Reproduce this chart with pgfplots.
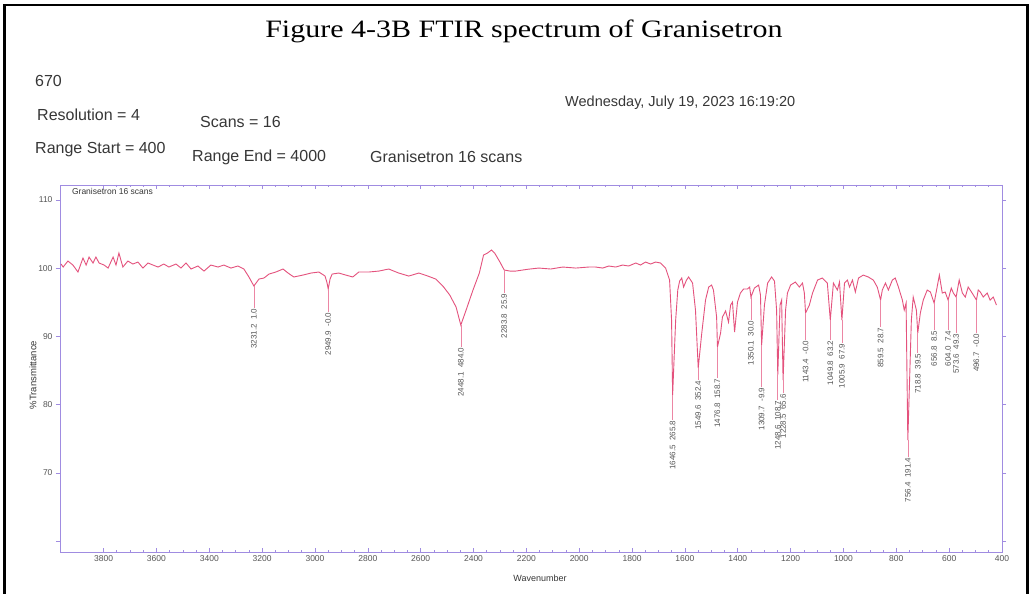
\documentclass[border=0pt]{standalone}
\usepackage{pgfplots}
\pgfplotsset{compat=1.18}
\usepackage{pgfplotstable}
\usepackage{fontspec}
\setmainfont{Liberation Serif}
\newfontfamily\arial{Liberation Sans}
\definecolor{spec}{RGB}{228,82,125}
\definecolor{axcol}{RGB}{160,140,225}
\definecolor{txt}{RGB}{55,55,55}
\definecolor{lbl}{RGB}{85,85,85}

\pgfplotstableread{
wn T
3961 100.62
3953 100.18
3935 101.06
3916 100.47
3897 99.45
3878 101.50
3866 100.47
3855 101.64
3840 100.77
3829 101.64
3817 100.77
3798 100.47
3783 100.03
3764 101.64
3753 100.47
3742 102.23
3727 100.18
3708 101.06
3689 100.62
3670 100.91
3651 100.03
3632 100.77
3613 100.47
3594 100.18
3572 100.62
3553 100.18
3526 100.62
3507 100.03
3488 100.77
3469 99.89
3443 100.33
3420 99.59
3394 100.47
3367 100.18
3345 100.47
3318 100.03
3292 100.33
3269 99.89
3250 98.72
3231.2 97.40
3212 98.42
3193 98.57
3174 99.15
3148 99.45
3121 99.89
3102 99.30
3080 98.72
3046 99.00
3015 99.30
2985 99.45
2962 98.86
2955 97.98
2949.9 96.96
2943 98.42
2935 99.15
2910 99.30
2883 99.00
2857 98.72
2834 99.45
2796 99.45
2758 99.59
2721 99.89
2683 99.30
2645 98.86
2607 99.30
2573 98.86
2543 98.42
2513 97.25
2490 96.08
2466 94.32
2448.1 91.68
2428 93.88
2402 96.81
2378 99.30
2362 101.94
2347 102.23
2332 102.67
2320 102.23
2300 100.91
2283.8 99.74
2262 99.59
2240 99.59
2195 99.85
2153 100.03
2108 99.89
2062 100.18
2013 100.03
1964 100.18
1938 100.18
1911 100.03
1888 100.33
1862 100.18
1836 100.47
1813 100.33
1786 100.77
1768 100.47
1749 100.91
1730 100.62
1711 100.91
1692 100.77
1673 100.03
1658 98.27
1650.5 92.41
1646.5 81.43
1635 92.41
1627 96.81
1620 98.13
1612 98.57
1605 97.25
1594 98.27
1586 98.72
1571 97.83
1560 93.88
1549.6 85.38
1537 90.22
1522 95.34
1510 97.25
1499 97.54
1492 96.81
1480 92.85
1476.8 88.46
1465 90.51
1458 92.85
1446 93.74
1435 92.12
1427 94.61
1420 95.05
1412 90.66
1401 95.05
1390 96.37
1378 96.96
1363 96.96
1355 97.25
1350.1 95.78
1337 97.10
1321 97.54
1314 96.08
1309.7 88.75
1299 94.61
1287 97.83
1272 98.72
1261 98.13
1253 93.88
1248.6 84.36
1240 94.61
1234 95.34
1228.5 83.62
1219 93.88
1212 96.37
1200 97.54
1182 97.98
1167 97.25
1155 97.83
1148 96.37
1143.4 93.44
1129 94.61
1117 96.37
1098 98.27
1080 98.57
1061 97.83
1049.8 92.41
1038 97.83
1023 96.81
1015 97.98
1005.9 92.41
996 97.83
985 98.27
977 97.25
966 98.27
955 96.52
943 98.57
925 99.00
906 98.72
887 98.27
872 97.25
859.5 95.34
853 96.81
841 97.83
830 96.81
815 98.27
804 98.57
792 97.25
777 95.34
770 93.88
763 94.90
756.4 74.83
743 92.41
736 95.78
724 93.88
718.8 90.51
709 93.44
698 95.34
683 96.81
671 96.52
656.8 94.90
649 96.52
637 99.00
626 96.37
615 96.52
604.0 95.34
592 97.10
584 96.37
573.6 95.78
562 98.27
550 96.37
539 95.78
528 97.25
513 96.37
496.7 95.34
490 96.81
482 96.52
471 95.78
456 96.37
445 95.34
433 95.78
421 94.61
}\spectrum

\begin{document}
\begin{tikzpicture}
\useasboundingbox (0,0) rectangle (1031pt,594pt);
\fill[white] (0,0) rectangle (1031pt,594pt);
\draw[black, line width=2.5pt] (4.5pt,0pt) -- (4.5pt,589pt) -- (1027.5pt,589pt) -- (1027.5pt,0pt);

\node[anchor=base, inner sep=0pt, font=\fontsize{25}{27}\selectfont] at (524pt,556pt) {\scalebox{1.2}[1]{Figure 4-3B FTIR spectrum of Granisetron}};

\begin{scope}[every node/.style={anchor=base west, inner sep=0pt, text=txt, font=\arial\fontsize{16}{18}\selectfont}]
\node at (35pt,507pt) {670};
\node at (37pt,473pt) {Resolution = 4};
\node at (200pt,466pt) {Scans = 16};
\node at (35pt,440pt) {Range Start = 400};
\node at (192pt,432pt) {Range End = 4000};
\node at (370pt,431pt) {Granisetron 16 scans};
\node[font=\arial\fontsize{14.5}{16}\selectfont] at (565pt,487pt) {Wednesday, July 19, 2023 16:19:20};
\end{scope}

\node[inner sep=0pt, text=txt, font=\arial\fontsize{9}{10}\selectfont] at (540pt,16pt) {Wavenumber};
\node[inner sep=0pt, rotate=90, text=txt, font=\arial\fontsize{9.5}{10}\selectfont] at (33pt,219pt) {\%Transmittance};

\begin{axis}[
  at={(60pt,42pt)}, anchor=south west, scale only axis,
  width=942pt, height=367pt,
  x dir=reverse, xmin=400, xmax=3965, ymin=58.43, ymax=112.2,
  xtick={400,600,...,3800}, ytick={60,70,...,110},
  yticklabels={,70,80,90,100,110},
  minor x tick num=3,
  xtick align=inside, ytick align=outside,
  major tick length=4pt, minor tick length=2pt,
  tick style={axcol, line width=0.6pt},
  axis line style={axcol, line width=0.9pt},
  ticklabel style={font=\arial\fontsize{8.5}{9}\selectfont, text=lbl},
  /pgf/number format/assume math mode=true,
  /pgf/number format/1000 sep={},
]
\addplot[spec, line width=0.9pt, no marks] table[x=wn, y=T] {\spectrum};

% leader lines from each marked peak down to its label
\addplot[spec!70, line width=0.6pt, no marks] coordinates {(3231.2,97.40) (3231.2,94.17)};
\addplot[spec!70, line width=0.6pt, no marks] coordinates {(2949.9,96.96) (2949.9,93.59)};
\addplot[spec!70, line width=0.6pt, no marks] coordinates {(2448.1,91.68) (2448.1,88.46)};
\addplot[spec!70, line width=0.6pt, no marks] coordinates {(2283.8,99.74) (2283.8,96.37)};
\addplot[spec!70, line width=0.6pt, no marks] coordinates {(1646.5,81.43) (1646.5,77.76)};
\addplot[spec!70, line width=0.6pt, no marks] coordinates {(1549.6,85.38) (1549.6,83.62)};
\addplot[spec!70, line width=0.6pt, no marks] coordinates {(1476.8,88.46) (1476.8,83.90)};
\addplot[spec!70, line width=0.6pt, no marks] coordinates {(1350.1,95.78) (1350.1,92.41)};
\addplot[spec!70, line width=0.6pt, no marks] coordinates {(1309.7,88.75) (1309.7,82.60)};
\addplot[spec!70, line width=0.6pt, no marks] coordinates {(1248.6,84.36) (1248.6,80.70)};
\addplot[spec!70, line width=0.6pt, no marks] coordinates {(1228.5,83.62) (1228.5,81.70)};
\addplot[spec!70, line width=0.6pt, no marks] coordinates {(1143.4,93.44) (1143.4,89.48)};
\addplot[spec!70, line width=0.6pt, no marks] coordinates {(1049.8,92.41) (1049.8,89.48)};
\addplot[spec!70, line width=0.6pt, no marks] coordinates {(1005.9,92.41) (1005.9,89.05)};
\addplot[spec!70, line width=0.6pt, no marks] coordinates {(859.5,95.34) (859.5,91.39)};
\addplot[spec!70, line width=0.6pt, no marks] coordinates {(756.4,74.83) (756.4,72.34)};
\addplot[spec!70, line width=0.6pt, no marks] coordinates {(718.8,90.51) (718.8,87.58)};
\addplot[spec!70, line width=0.6pt, no marks] coordinates {(656.8,94.90) (656.8,90.95)};
\addplot[spec!70, line width=0.6pt, no marks] coordinates {(604.0,95.34) (604.0,90.95)};
\addplot[spec!70, line width=0.6pt, no marks] coordinates {(573.6,95.78) (573.6,90.51)};
\addplot[spec!70, line width=0.6pt, no marks] coordinates {(496.7,95.34) (496.7,90.51)};

\begin{scope}[every node/.style={rotate=90, anchor=east, inner sep=0.5pt, text=lbl, font=\arial\fontsize{8}{9}\selectfont}]
\node at (axis cs:3231.2,94.17) {3231.2\ \ 1.0};
\node at (axis cs:2949.9,93.59) {2949.9\ \ -0.0};
\node at (axis cs:2448.1,88.46) {2448.1\ \ 484.0};
\node at (axis cs:2283.8,96.37) {2283.8\ \ 25.9};
\node at (axis cs:1646.5,77.76) {1646.5\ \ 265.8};
\node at (axis cs:1549.6,83.62) {1549.6\ \ 352.4};
\node at (axis cs:1476.8,83.90) {1476.8\ \ 158.7};
\node at (axis cs:1350.1,92.41) {1350.1\ \ 30.0};
\node at (axis cs:1309.7,82.60) {1309.7\ \ -9.9};
\node at (axis cs:1248.6,80.70) {1248.6\ \ 108.7};
\node at (axis cs:1228.5,81.70) {1228.5\ \ 65.6};
\node at (axis cs:1143.4,89.48) {1143.4\ \ -0.0};
\node at (axis cs:1049.8,89.48) {1049.8\ \ 63.2};
\node at (axis cs:1005.9,89.05) {1005.9\ \ 67.9};
\node at (axis cs:859.5,91.39) {859.5\ \ 28.7};
\node at (axis cs:756.4,72.34) {756.4\ \ 191.4};
\node at (axis cs:718.8,87.58) {718.8\ \ 39.5};
\node at (axis cs:656.8,90.95) {656.8\ \ 8.5};
\node at (axis cs:604.0,90.95) {604.0\ \ 7.4};
\node at (axis cs:573.6,90.51) {573.6\ \ 49.3};
\node at (axis cs:496.7,90.51) {496.7\ \ -0.0};
\end{scope}

\node[anchor=west, inner sep=0pt, text=txt, font=\arial\fontsize{8.5}{9}\selectfont] at (axis cs:3920,111.25) {Granisetron 16 scans};
\end{axis}
\end{tikzpicture}
\end{document}
